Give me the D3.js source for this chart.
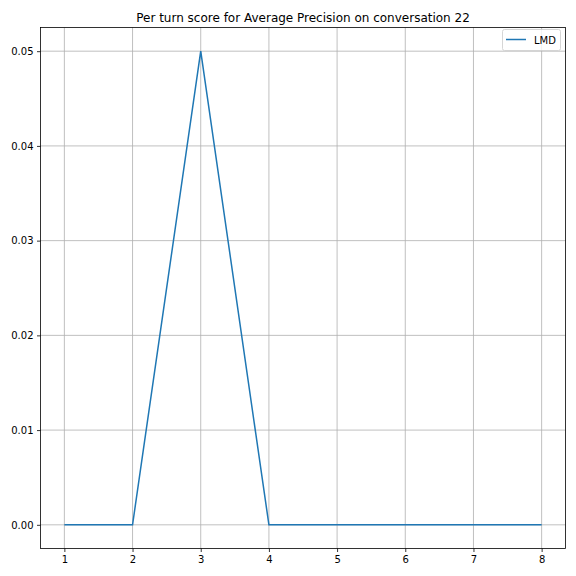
<!DOCTYPE html>
<html><head><meta charset="utf-8">
<script src="https://cdn.jsdelivr.net/npm/d3@7"></script>
<style>body{margin:0;background:#fff}svg{display:block}text{font-family:"DejaVu Sans",sans-serif}</style>
</head><body><svg id="c" width="576" height="576"></svg>
<script>
const turns = [1,2,3,4,5,6,7,8];
const lmd = [0,0,0.05,0,0,0,0,0];
const xTicks = [1,2,3,4,5,6,7,8];
const yTicks = [0,0.01,0.02,0.03,0.04,0.05];
const title = "Per turn score for Average Precision on conversation 22";
const seriesName = "LMD";

const svg = d3.select("#c");
const L=40.5, R=565.5, T=27.5, B=548.5;
const x = d3.scaleLinear().domain([0.65,8.35]).range([L,R]);
const y = d3.scaleLinear().domain([-0.0025,0.0525]).range([B,T]);

// grid
svg.append("g").selectAll("line").data(xTicks).join("line")
  .attr("x1",d=>x(d)).attr("x2",d=>x(d)).attr("y1",T).attr("y2",B)
  .attr("stroke","#b0b0b0").attr("stroke-width",0.8);
svg.append("g").selectAll("line").data(yTicks).join("line")
  .attr("y1",d=>y(d)).attr("y2",d=>y(d)).attr("x1",L).attr("x2",R)
  .attr("stroke","#b0b0b0").attr("stroke-width",0.8);

// line
svg.append("path").datum(turns.map((t,i)=>[t,lmd[i]]))
  .attr("d",d3.line().x(d=>x(d[0])).y(d=>y(d[1])))
  .attr("fill","none").attr("stroke","#1f77b4").attr("stroke-width",1.5);

// axes
const xa = svg.append("g").attr("transform",`translate(0,${B})`)
  .call(d3.axisBottom(x).tickValues(xTicks).tickFormat(d3.format("d")).tickSize(3.5).tickPadding(3.5));
const ya = svg.append("g").attr("transform",`translate(${L},0)`)
  .call(d3.axisLeft(y).tickValues(yTicks).tickFormat(d3.format(".2f")).tickSize(3.5).tickPadding(3.5));
[xa,ya].forEach(a=>{a.select(".domain").remove();a.selectAll("text").attr("font-size",10).attr("fill","#000").style("font-family","DejaVu Sans");a.selectAll("line").attr("stroke","#000").attr("stroke-width",0.8);});

svg.append("rect").attr("x",L).attr("y",T).attr("width",R-L).attr("height",B-T)
  .attr("fill","none").attr("stroke","#000").attr("stroke-width",0.8);

svg.append("text").attr("x",(L+R)/2).attr("y",T-6).attr("text-anchor","middle")
  .attr("font-size",12).text(title);

// legend
const lg = svg.append("g");
lg.append("rect").attr("x",502.5).attr("y",29.5).attr("width",58).attr("height",21).attr("rx",2)
  .attr("fill","#fff").attr("fill-opacity",0.8).attr("stroke","#ccc").attr("stroke-width",0.8);
lg.append("line").attr("x1",506).attr("x2",526).attr("y1",39.5).attr("y2",39.5)
  .attr("stroke","#1f77b4").attr("stroke-width",1.5);
lg.append("text").attr("x",534).attr("y",43.5).attr("font-size",10).text(seriesName);
</script></body></html>
